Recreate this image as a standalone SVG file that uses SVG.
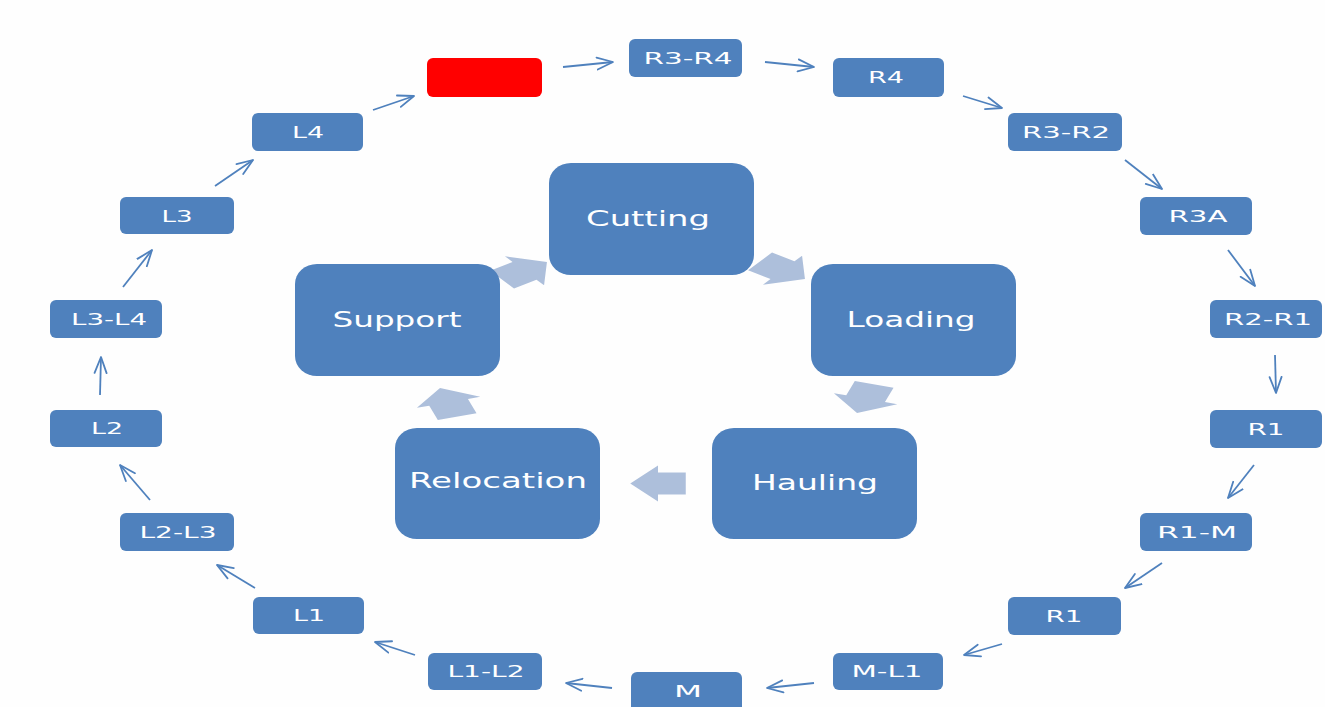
<svg xmlns="http://www.w3.org/2000/svg" width="1325" height="707" viewBox="0 0 1325 707">
  <defs>
    <style>
      .step rect { fill: #4f81bd; }
      .step text { fill: #ffffff; font-family: "DejaVu Sans", "Liberation Sans", sans-serif; font-size: 16px; text-anchor: middle; }
      .stage rect { fill: #4f81bd; }
      .stage text { fill: #ffffff; font-family: "DejaVu Sans", "Liberation Sans", sans-serif; font-size: 21px; text-anchor: middle; }
      .link { stroke: #4f81bd; stroke-width: 1.8; fill: none; marker-end: url(#open); }
      .flow { fill: #adbfdb; }
    </style>
    <marker id="open" markerUnits="userSpaceOnUse" markerWidth="20" markerHeight="16" refX="17" refY="7" orient="auto" viewBox="0 0 20 14">
      <path d="M1,1 L17,7 L1,13" fill="none" stroke="#4f81bd" stroke-width="1.8" stroke-linecap="round" stroke-linejoin="round"/>
    </marker>
    <!-- block arrow of the inner cycle, drawn in unstretched units -->
    <polygon id="blk" points="-15,-11 0,-11 0,-18 15,0 0,18 0,11 -15,11"/>
  </defs>

  <rect x="0" y="0" width="1325" height="707" fill="#fefefe"/>

  <!-- inner cycle arrows (behind the stage boxes) -->
  <g id="cycle-arrows" class="flow">
    <use href="#blk" transform="translate(782.5,270.2) scale(1.85,1) rotate(36)"/>
    <use href="#blk" transform="translate(865.6,398.7) scale(1.85,1) rotate(108)"/>
    <use href="#blk" transform="translate(658,483.5) scale(1.85,1) rotate(180)"/>
    <use href="#blk" transform="translate(448.6,402.3) scale(1.85,1) rotate(252)"/>
    <use href="#blk" transform="translate(524.5,270.8) scale(1.85,1) rotate(324)"/>
  </g>

  <!-- inner cycle stages -->
  <g id="cutting" class="stage"><rect x="549" y="163" width="205" height="112" rx="22" ry="20"/><text x="648" y="226" textLength="124" lengthAdjust="spacingAndGlyphs">Cutting</text></g>
  <g id="loading" class="stage"><rect x="811" y="264" width="205" height="112" rx="22" ry="20"/><text x="911" y="327" textLength="129" lengthAdjust="spacingAndGlyphs">Loading</text></g>
  <g id="hauling" class="stage"><rect x="712" y="428" width="205" height="111" rx="22" ry="20"/><text x="815" y="490" textLength="126" lengthAdjust="spacingAndGlyphs">Hauling</text></g>
  <g id="relocation" class="stage"><rect x="395" y="428" width="205" height="111" rx="22" ry="20"/><text x="498" y="488" textLength="178" lengthAdjust="spacingAndGlyphs">Relocation</text></g>
  <g id="support" class="stage"><rect x="295" y="264" width="205" height="112" rx="22" ry="20"/><text x="397" y="327" textLength="129" lengthAdjust="spacingAndGlyphs">Support</text></g>

  <!-- outer ring connectors -->
  <g id="connectors">
    <line class="link" x1="373" y1="110" x2="414" y2="96"/>
    <line class="link" x1="563" y1="67" x2="613" y2="62"/>
    <line class="link" x1="765" y1="62" x2="814" y2="67"/>
    <line class="link" x1="963" y1="96" x2="1002" y2="108"/>
    <line class="link" x1="1125" y1="160" x2="1162" y2="189"/>
    <line class="link" x1="1228" y1="250" x2="1255" y2="286"/>
    <line class="link" x1="1275" y1="355" x2="1276" y2="393"/>
    <line class="link" x1="1254" y1="465" x2="1228" y2="498"/>
    <line class="link" x1="1162" y1="563" x2="1125" y2="588"/>
    <line class="link" x1="1002" y1="644" x2="964" y2="655"/>
    <line class="link" x1="814" y1="683" x2="767" y2="688"/>
    <line class="link" x1="612" y1="688" x2="566" y2="683"/>
    <line class="link" x1="415" y1="655" x2="375" y2="642"/>
    <line class="link" x1="255" y1="588" x2="217" y2="565"/>
    <line class="link" x1="150" y1="500" x2="120" y2="465"/>
    <line class="link" x1="100" y1="395" x2="101" y2="357"/>
    <line class="link" x1="123" y1="287" x2="152" y2="250"/>
    <line class="link" x1="215" y1="186" x2="253" y2="160"/>
  </g>

  <!-- outer ring steps -->
  <g id="start" class="step"><rect x="427" y="58" width="115" height="39" rx="6" style="fill:#ff0000"/></g>
  <g id="r3-r4" class="step"><rect x="629" y="39" width="113" height="38" rx="6"/><text x="688" y="64" textLength="89" lengthAdjust="spacingAndGlyphs">R3-R4</text></g>
  <g id="r4" class="step"><rect x="833" y="58" width="111" height="39" rx="6"/><text x="886" y="83" textLength="36" lengthAdjust="spacingAndGlyphs">R4</text></g>
  <g id="r3-r2" class="step"><rect x="1008" y="113" width="114" height="38" rx="6"/><text x="1066" y="138" textLength="88" lengthAdjust="spacingAndGlyphs">R3-R2</text></g>
  <g id="r3a" class="step"><rect x="1140" y="197" width="112" height="38" rx="6"/><text x="1198" y="222" textLength="59" lengthAdjust="spacingAndGlyphs">R3A</text></g>
  <g id="r2-r1" class="step"><rect x="1210" y="300" width="112" height="38" rx="6"/><text x="1268" y="325" textLength="88" lengthAdjust="spacingAndGlyphs">R2-R1</text></g>
  <g id="r1-a" class="step"><rect x="1210" y="410" width="112" height="38" rx="6"/><text x="1266" y="435" textLength="37" lengthAdjust="spacingAndGlyphs">R1</text></g>
  <g id="r1-m" class="step"><rect x="1140" y="513" width="112" height="38" rx="6"/><text x="1197" y="538" textLength="80" lengthAdjust="spacingAndGlyphs">R1-M</text></g>
  <g id="r1-b" class="step"><rect x="1008" y="597" width="113" height="38" rx="6"/><text x="1064" y="622" textLength="37" lengthAdjust="spacingAndGlyphs">R1</text></g>
  <g id="m-l1" class="step"><rect x="833" y="653" width="110" height="37" rx="6"/><text x="887" y="677" textLength="71" lengthAdjust="spacingAndGlyphs">M-L1</text></g>
  <g id="m" class="step"><rect x="631" y="672" width="111" height="40" rx="6"/><text x="688" y="697" textLength="28" lengthAdjust="spacingAndGlyphs">M</text></g>
  <g id="l1-l2" class="step"><rect x="428" y="653" width="114" height="37" rx="6"/><text x="486" y="677" textLength="77" lengthAdjust="spacingAndGlyphs">L1-L2</text></g>
  <g id="l1" class="step"><rect x="253" y="597" width="111" height="37" rx="6"/><text x="309" y="621" textLength="32" lengthAdjust="spacingAndGlyphs">L1</text></g>
  <g id="l2-l3" class="step"><rect x="120" y="513" width="114" height="38" rx="6"/><text x="178" y="538" textLength="77" lengthAdjust="spacingAndGlyphs">L2-L3</text></g>
  <g id="l2" class="step"><rect x="50" y="410" width="112" height="37" rx="6"/><text x="107" y="434" textLength="32" lengthAdjust="spacingAndGlyphs">L2</text></g>
  <g id="l3-l4" class="step"><rect x="50" y="300" width="112" height="38" rx="6"/><text x="109" y="325" textLength="76" lengthAdjust="spacingAndGlyphs">L3-L4</text></g>
  <g id="l3" class="step"><rect x="120" y="197" width="114" height="37" rx="6"/><text x="177" y="222" textLength="31" lengthAdjust="spacingAndGlyphs">L3</text></g>
  <g id="l4" class="step"><rect x="252" y="113" width="111" height="38" rx="6"/><text x="308" y="138" textLength="32" lengthAdjust="spacingAndGlyphs">L4</text></g>
</svg>
